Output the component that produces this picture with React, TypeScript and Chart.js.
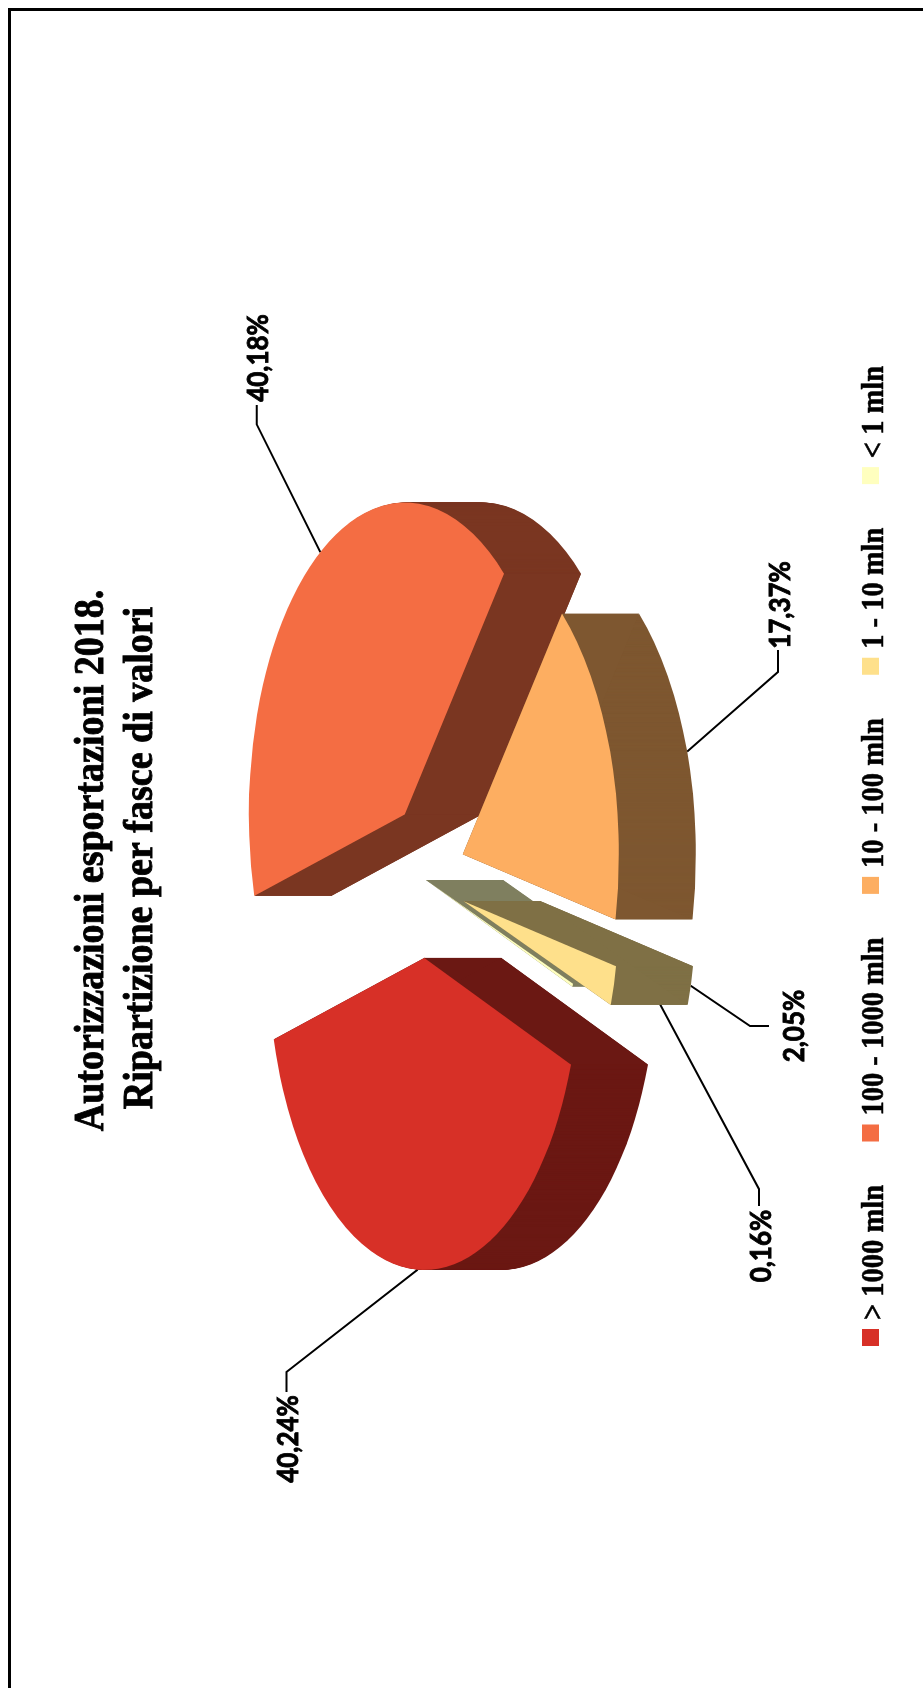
import React, { useEffect, useRef } from "react";
import { Chart, registerables } from "chart.js";

Chart.register(...registerables);

const categories = ["> 1000 mln", "100 - 1000 mln", "10 - 100 mln", "1 - 10 mln", "< 1 mln"];
const shares = [40.24, 40.18, 17.37, 2.05, 0.16];
const sliceColors = ["#D73027", "#F46D43", "#FDAE61", "#FEE08B", "#FFFFBF"];
const sideColors = ["#6B1813", "#7A3621", "#7E5730", "#7F7045", "#7F7F5F"];
const titleLines = ["Autorizzazioni esportazioni 2018.", "Ripartizione per fasce di valori"];

// Layout of the drawing, in the un-rotated canvas frame
const CANVAS_W = 1680;
const CANVAS_H = 915;
const PIE = { u: 808, v: 418, radius: 312, squash: 0.5, depth: 77, explode: [78, 78, 78, 78, 0] };
const DRAW_ORDER = [4, 0, 1, 2, 3];
const LEADERS = [
  { elbow: [316, 278.5], stub: [296, 278.5], text: [249, 281] },
  { elbow: [1263.7, 248.7], stub: [1283, 248.7], text: [1330, 251] },
  { elbow: [1016, 770], stub: [1038, 770], text: [1083, 773] },
  { elbow: [662, 742], stub: [662, 761], text: [662, 787] },
  { elbow: [499, 751], stub: [482, 751], text: [442, 754] },
];
const TITLE = { font: 'bold 38px "Liberation Serif"', centers: [827.5, 830], baselines: [94.7, 143.7], stretch: 1.09, stroke: 0.8 };
const LEGEND = { font: 'bold 28.5px "Liberation Serif"', start: 342, box: 17, boxTop: 854, baseline: 874.5, textGap: 9, itemGap: 43.5, stretch: 1.13, stroke: 0.5 };
const LABEL = { font: "bold 26px Lato", stretch: 1.08, stroke: 0.8 };

const stretchedText = (ctx: any, text: string, u: number, v: number, stretch: number, stroke: number) => {
  ctx.save();
  ctx.translate(u, v);
  ctx.scale(1, stretch);
  ctx.fillText(text, 0, 0);
  ctx.lineWidth = stroke;
  ctx.strokeText(text, 0, 0);
  ctx.restore();
};

const exploded3d = {
  id: "exploded3d",
  beforeDatasetsDraw(chart: any) {
    const ctx = chart.ctx;
    const arcs = chart.getDatasetMeta(0).data;
    const midOf = (a: any) => (a.startAngle + a.endAngle) / 2;

    // title
    ctx.save();
    ctx.fillStyle = "#000";
    ctx.strokeStyle = "#000";
    ctx.font = TITLE.font;
    ctx.textAlign = "center";
    ctx.textBaseline = "alphabetic";
    titleLines.forEach((line, i) =>
      stretchedText(ctx, line, TITLE.centers[i], TITLE.baselines[i], TITLE.stretch, TITLE.stroke)
    );

    // legend
    ctx.font = LEGEND.font;
    ctx.textAlign = "left";
    let cursor = LEGEND.start;
    categories.forEach((name, i) => {
      ctx.fillStyle = sliceColors[i];
      ctx.fillRect(cursor, LEGEND.boxTop, LEGEND.box, LEGEND.box);
      cursor += LEGEND.box + LEGEND.textGap;
      ctx.fillStyle = "#000";
      stretchedText(ctx, name, cursor, LEGEND.baseline, LEGEND.stretch, LEGEND.stroke);
      cursor += ctx.measureText(name).width + LEGEND.itemGap;
    });
    ctx.restore();

    // leader lines sit beneath the slices
    ctx.save();
    ctx.strokeStyle = "#000";
    ctx.lineWidth = 2;
    arcs.forEach((arc: any, i: number) => {
      const mid = midOf(arc);
      const r = arc.outerRadius + PIE.explode[i];
      const startU = PIE.u + Math.cos(mid) * r;
      const startV = PIE.v + Math.sin(mid) * r * PIE.squash + (Math.sin(mid) > 0 ? PIE.depth : 0);
      const l = LEADERS[i];
      ctx.beginPath();
      ctx.moveTo(startU, startV);
      ctx.lineTo(l.elbow[0], l.elbow[1]);
      ctx.lineTo(l.stub[0], l.stub[1]);
      ctx.stroke();
    });
    ctx.restore();

    const slice = (arc: any, i: number, drop: number, color: string) => {
      const mid = midOf(arc);
      ctx.save();
      ctx.translate(PIE.u, PIE.v + drop);
      ctx.scale(1, PIE.squash);
      ctx.translate(Math.cos(mid) * PIE.explode[i], Math.sin(mid) * PIE.explode[i]);
      ctx.fillStyle = color;
      ctx.beginPath();
      ctx.moveTo(0, 0);
      ctx.arc(0, 0, arc.outerRadius, arc.startAngle, arc.endAngle);
      ctx.closePath();
      ctx.fill();
      ctx.restore();
    };

    // the flat cut faces, filled whole so that very thin slices stay solid
    const cutFace = (arc: any, i: number, angle: number) => {
      const mid = midOf(arc);
      const cu = PIE.u + Math.cos(mid) * PIE.explode[i];
      const cv = PIE.v + Math.sin(mid) * PIE.explode[i] * PIE.squash;
      const eu = cu + Math.cos(angle) * arc.outerRadius;
      const ev = cv + Math.sin(angle) * arc.outerRadius * PIE.squash;
      ctx.fillStyle = sideColors[i];
      ctx.beginPath();
      ctx.moveTo(cu, cv);
      ctx.lineTo(cu, cv + PIE.depth);
      ctx.lineTo(eu, ev + PIE.depth);
      ctx.lineTo(eu, ev);
      ctx.closePath();
      ctx.fill();
    };

    DRAW_ORDER.forEach((i) => {
      const arc = arcs[i];
      for (let d = PIE.depth; d >= 1; d -= 1) slice(arc, i, d, sideColors[i]);
      cutFace(arc, i, arc.startAngle);
      cutFace(arc, i, arc.endAngle);
      slice(arc, i, 0, sliceColors[i]);
    });

    // value labels
    ctx.save();
    ctx.fillStyle = "#000";
    ctx.strokeStyle = "#000";
    ctx.font = LABEL.font;
    ctx.textAlign = "center";
    ctx.textBaseline = "middle";
    shares.forEach((s, i) => {
      stretchedText(ctx, s.toFixed(2).replace(".", ",") + "%", LEADERS[i].text[0], LEADERS[i].text[1], LABEL.stretch, LABEL.stroke);
    });
    ctx.restore();
    return false;
  },
};

export default function App() {
  const ref = useRef<HTMLCanvasElement>(null);
  useEffect(() => {
    const chart = new Chart(ref.current as HTMLCanvasElement, {
      type: "pie",
      data: {
        labels: categories,
        datasets: [{ data: shares, backgroundColor: sliceColors, borderWidth: 0 }],
      },
      options: {
        animation: false,
        responsive: false,
        devicePixelRatio: 1,
        rotation: 200,
        radius: PIE.radius,
        events: [],
        plugins: {
          tooltip: { enabled: false },
          title: { display: false },
          legend: { display: false },
        },
      },
      plugins: [exploded3d],
    } as any);
    return () => chart.destroy();
  }, []);

  return (
    <div
      style={{
        position: "fixed",
        left: 8,
        top: 8,
        width: 915,
        height: 1680,
        overflow: "hidden",
        background: "#fff",
      }}
    >
      <canvas
        ref={ref}
        width={CANVAS_W}
        height={CANVAS_H}
        style={{
          position: "absolute",
          left: 0,
          top: 1680,
          transformOrigin: "0 0",
          transform: "rotate(-90deg)",
        }}
      />
      <div style={{ position: "absolute", left: 0, top: 0, width: "100%", height: 3, background: "#000" }} />
      <div style={{ position: "absolute", left: 0, top: 0, width: 3, height: "100%", background: "#000" }} />
    </div>
  );
}
